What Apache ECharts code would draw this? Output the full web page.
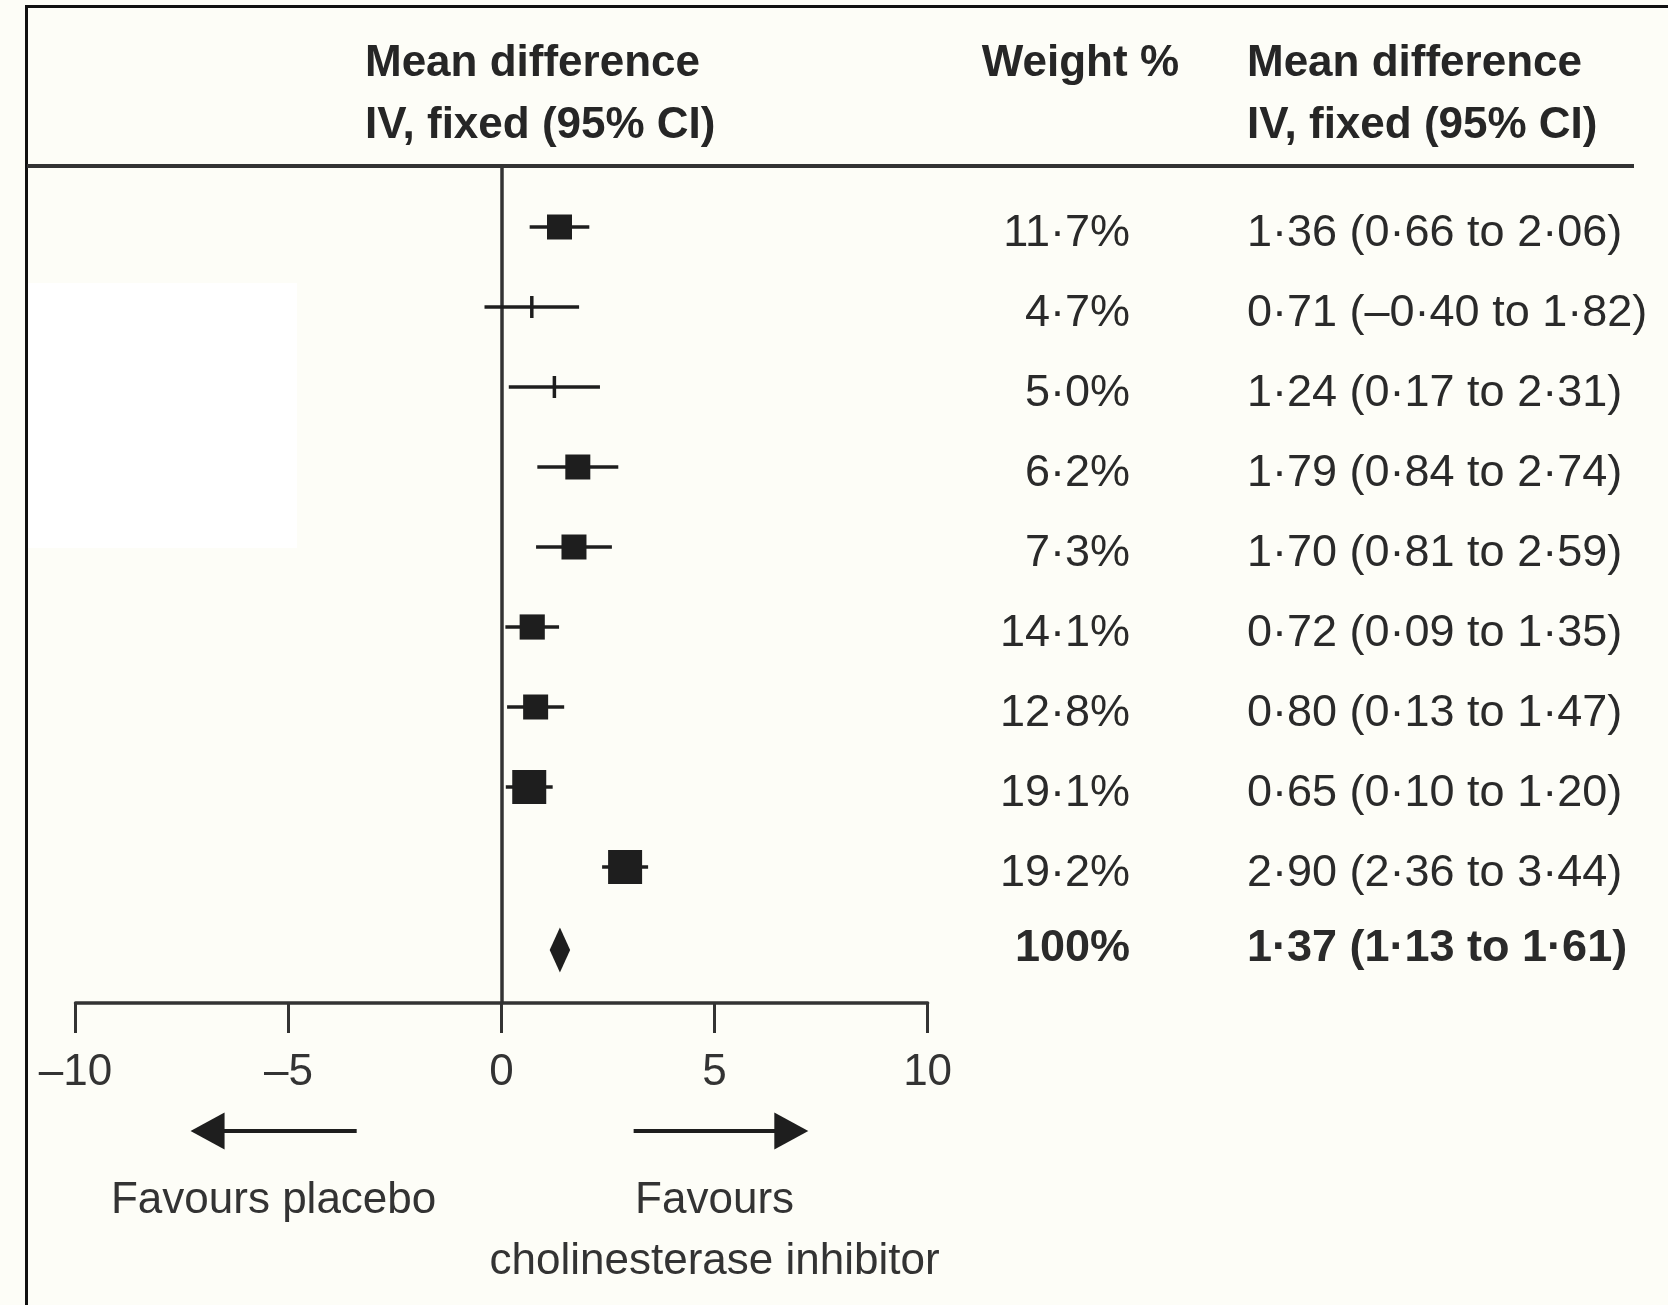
<!DOCTYPE html>
<html>
<head>
<meta charset="utf-8">
<style>
html, body { margin: 0; padding: 0; background: #fdfdf7; }
#chart { width: 1668px; height: 1305px; }
</style>
<script src="https://cdn.jsdelivr.net/npm/echarts@6/dist/echarts.min.js"></script>
</head>
<body>
<div id="chart"></div>
<script>
// Per-study mean differences (IV, fixed effect) with 95% CI and weights
const studyWeights = [11.7, 4.7, 5.0, 6.2, 7.3, 14.1, 12.8, 19.1, 19.2];
const studyMeans   = [1.36, 0.71, 1.24, 1.79, 1.70, 0.72, 0.80, 0.65, 2.90];
const studyLower   = [0.66, -0.40, 0.17, 0.84, 0.81, 0.09, 0.13, 0.10, 2.36];
const studyUpper   = [2.06, 1.82, 2.31, 2.74, 2.59, 1.35, 1.47, 1.20, 3.44];

// Pooled estimate
const pooledWeight = [100];
const pooledMean   = [1.37];
const pooledLower  = [1.13];
const pooledUpper  = [1.61];

// Axis ticks and text
const xTicks = [-10, -5, 0, 5, 10];
const plotHeader = ['Mean difference', 'IV, fixed (95% CI)'];
const weightHeader = ['Weight %'];
const estimateHeader = ['Mean difference', 'IV, fixed (95% CI)'];
const favoursLeft = ['Favours placebo'];
const favoursRight = ['Favours', 'cholinesterase inhibitor'];

const FONT = "'Liberation Sans', Arial, sans-serif";
const INK = '#1e1e1e';
const RULE = '#333333';
const TEXT = '#2a2a2a';
const WEIGHT_X = 1130;   // right edge of the weight column
const ESTIMATE_X = 1247; // left edge of the estimate column

function num(v) {
  return (v < 0 ? '\u2013' : '') + Math.abs(v).toFixed(2).replace('.', '\u00b7');
}
function pct(w) {
  return (Number.isInteger(w) && w >= 100 ? String(w) : w.toFixed(1).replace('.', '\u00b7')) + '%';
}
function ciText(m, lo, hi) {
  return num(m) + ' (' + num(lo) + ' to ' + num(hi) + ')';
}
function tickText(v) {
  return v < 0 ? '\u2013' + Math.abs(v) : String(v);
}
// box side grows with study weight
function boxSize(w) {
  return Math.min(34, Math.max(25, 25 + (w - 14) * 1.8));
}

function textEl(x, y, str, align, bold) {
  return {
    type: 'text', x: x, y: y,
    style: {
      text: str, align: align, verticalAlign: 'middle',
      fontSize: 45, fontFamily: FONT, fontWeight: bold ? 'bold' : 'normal',
      fill: TEXT
    }
  };
}

function renderStudy(params, api) {
  const row = api.value(3);
  const w = api.value(4);
  const c = api.coord([api.value(0), row]);
  const l = api.coord([api.value(1), row]);
  const h = api.coord([api.value(2), row]);
  const y = c[1];
  const kids = [{
    type: 'line',
    shape: { x1: l[0], y1: y, x2: h[0], y2: y },
    style: { stroke: INK, lineWidth: 3.5 }
  }];
  if (w < 6) {
    kids.push({
      type: 'line',
      shape: { x1: c[0], y1: y - 11, x2: c[0], y2: y + 11 },
      style: { stroke: INK, lineWidth: 3.5 }
    });
  } else {
    const s = boxSize(w);
    kids.push({
      type: 'rect',
      shape: { x: c[0] - s / 2, y: y - s / 2, width: s, height: s },
      style: { fill: INK }
    });
  }
  kids.push(textEl(WEIGHT_X, y + 7, pct(w), 'right', false));
  kids.push(textEl(ESTIMATE_X, y + 7, ciText(api.value(0), api.value(1), api.value(2)), 'left', false));
  return { type: 'group', children: kids };
}

function renderPooled(params, api) {
  const row = api.value(3);
  const c = api.coord([api.value(0), row]);
  const l = api.coord([api.value(1), row]);
  const h = api.coord([api.value(2), row]);
  const y = c[1];
  return {
    type: 'group',
    children: [
      {
        type: 'polygon',
        shape: { points: [[l[0], y + 3], [c[0], y - 19.5], [h[0], y + 3], [c[0], y + 25.5]] },
        style: { fill: INK }
      },
      textEl(WEIGHT_X, y + 2, pct(api.value(4)), 'right', true),
      textEl(ESTIMATE_X, y + 2, ciText(api.value(0), api.value(1), api.value(2)), 'left', true)
    ]
  };
}

const studyData = studyMeans.map((m, i) => [m, studyLower[i], studyUpper[i], i, studyWeights[i]]);
const pooledData = pooledMean.map((m, i) => [m, pooledLower[i], pooledUpper[i], studyMeans.length + i, pooledWeight[i]]);

const chart = echarts.init(document.getElementById('chart'), null, { renderer: 'canvas' });

chart.setOption({
  backgroundColor: '#fdfdf7',
  animation: false,
  grid: { left: 75.5, right: 740.4, top: 167, bottom: 302, containLabel: false },
  xAxis: {
    type: 'value', min: -10, max: 10, interval: 5,
    axisLine: { show: true, onZero: false, lineStyle: { color: RULE, width: 3.5 } },
    axisTick: { show: true, length: 30, customValues: xTicks, lineStyle: { color: RULE, width: 3 } },
    axisLabel: {
      customValues: xTicks, formatter: tickText, margin: 48,
      fontSize: 44, fontFamily: FONT, color: '#333'
    },
    splitLine: { show: false }
  },
  yAxis: {
    type: 'value', min: -0.75, max: 9.7, inverse: true,
    axisLine: { show: true, onZero: true, lineStyle: { color: RULE, width: 3.5 } },
    axisTick: { show: false },
    axisLabel: { show: false },
    splitLine: { show: false }
  },
  series: [
    {
      type: 'custom', name: 'Studies', renderItem: renderStudy,
      encode: { x: [0, 1, 2], y: 3 }, data: studyData, clip: false, silent: true
    },
    {
      type: 'custom', name: 'Pooled', renderItem: renderPooled,
      encode: { x: [0, 1, 2], y: 3 }, data: pooledData, clip: false, silent: true
    }
  ]
});

// Frame, header rule, column headings, direction arrows and captions
const px = v => chart.convertToPixel({ xAxisIndex: 0 }, v);
const arrowY = 1131;
const leftTip = px(-7.3), leftTail = px(-3.4);
const rightTail = px(3.1), rightTip = px(7.2);
const head = 34, halfHead = 18.5;

function heading(x, y, str, align) {
  return {
    type: 'text', x: x, y: y,
    style: {
      text: str, align: align, verticalAlign: 'middle',
      fontSize: 44, fontFamily: FONT, fontWeight: 'bold', fill: '#262626'
    }
  };
}
function caption(x, y, str) {
  return {
    type: 'text', x: x, y: y,
    style: {
      text: str, align: 'center', verticalAlign: 'middle',
      fontSize: 44, fontFamily: FONT, fill: '#333'
    }
  };
}

chart.setOption({
  graphic: [
    { type: 'rect', z: -10, shape: { x: 28, y: 283, width: 269, height: 265 }, style: { fill: '#ffffff' } },
    { type: 'line', shape: { x1: 26, y1: 6.5, x2: 1668, y2: 6.5 }, style: { stroke: '#111', lineWidth: 3 } },
    { type: 'line', shape: { x1: 26.5, y1: 5, x2: 26.5, y2: 1305 }, style: { stroke: '#111', lineWidth: 3 } },
    { type: 'line', shape: { x1: 27, y1: 166, x2: 1634, y2: 166 }, style: { stroke: RULE, lineWidth: 4 } },
    heading(365, 63.5, plotHeader[0], 'left'),
    heading(365, 125.5, plotHeader[1], 'left'),
    heading(1179, 63.5, weightHeader[0], 'right'),
    heading(1247, 63.5, estimateHeader[0], 'left'),
    heading(1247, 125.5, estimateHeader[1], 'left'),
    { type: 'line', shape: { x1: leftTip + head - 2, y1: arrowY, x2: leftTail, y2: arrowY }, style: { stroke: INK, lineWidth: 4 } },
    { type: 'polygon', shape: { points: [[leftTip, arrowY], [leftTip + head, arrowY - halfHead], [leftTip + head, arrowY + halfHead]] }, style: { fill: INK } },
    { type: 'line', shape: { x1: rightTail, y1: arrowY, x2: rightTip - head + 2, y2: arrowY }, style: { stroke: INK, lineWidth: 4 } },
    { type: 'polygon', shape: { points: [[rightTip, arrowY], [rightTip - head, arrowY - halfHead], [rightTip - head, arrowY + halfHead]] }, style: { fill: INK } },
    caption((leftTip + leftTail) / 2, 1201, favoursLeft[0]),
    caption(px(5), 1201, favoursRight[0]),
    caption(px(5), 1262, favoursRight[1])
  ]
});
</script>
</body>
</html>
